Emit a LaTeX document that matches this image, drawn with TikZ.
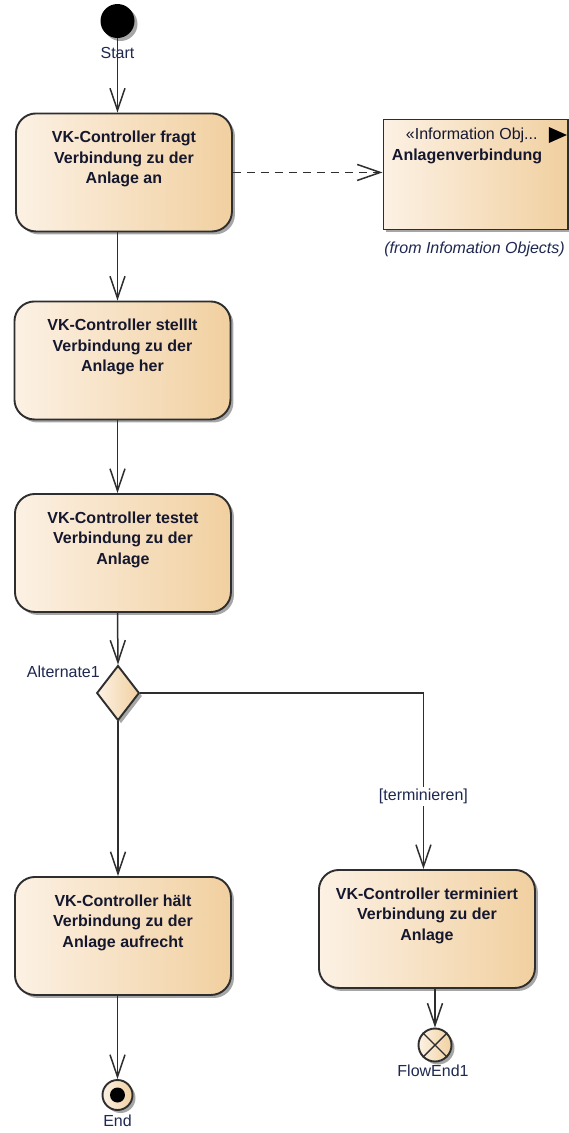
\documentclass[tikz,border=0pt]{standalone}
\usepackage{fontspec}
\setmainfont{Liberation Sans}
\usetikzlibrary{arrows.meta,shapes.geometric,shadows}

\definecolor{fillL}{HTML}{FCF1E4}
\definecolor{fillR}{HTML}{F1D0A0}
\definecolor{edge}{HTML}{2E2E2E}
\definecolor{ink}{HTML}{15172E}
\definecolor{lbl}{HTML}{1E2850}

% action text: top-aligned, three centred bold lines
\newcommand\acttext[1]{\parbox[c][118pt][t]{216pt}{\fontsize{16}{20.5}\selectfont\bfseries\centering\vspace*{15.15pt}\strut #1}}

\begin{document}
\begin{tikzpicture}[x=1pt,y=-1pt,
  shade/.style={left color=fillL, right color=fillR},
  shadowed/.style={drop shadow={shadow xshift=3pt, shadow yshift=-3pt, opacity=0.35, fill=black}},
  act/.style={draw=edge, line width=1.9pt, rounded corners=20pt, shade, shadowed,
    inner sep=0pt, anchor=north west, text=ink},
  obj/.style={draw=edge, line width=1.9pt, shade, shadowed, inner sep=0pt,
    anchor=north west, text=ink},
  lab/.style={font=\fontsize{16}{19}\selectfont, text=lbl, inner sep=0pt},
  flow/.style={draw=edge, line width=1.5pt, -{Straight Barb[length=22pt,width=15pt]}},
  dep/.style={draw=edge, line width=1.5pt, dash pattern=on 8pt off 6pt,
    -{Straight Barb[length=23pt,width=16pt]}},
]
\fill[white] (0,0) rectangle (569,1133);
\useasboundingbox (0,0) rectangle (569,1133);

% initial node
\node[circle, fill=black, minimum size=34pt, inner sep=0pt, shadowed] (start) at (117.5,21) {};

% actions
\node[act] (b1) at (15,112.5) {\acttext{VK-Controller fragt\\Verbindung zu der\\Anlage an}};
\node[act] (b2) at (13.5,300.5) {\acttext{VK-Controller stelllt\\Verbindung zu der\\Anlage her}};
\node[act] (b3) at (14,493) {\acttext{VK-Controller testet\\Verbindung zu der\\Anlage}};
\node[act] (b4) at (14,876) {\acttext{VK-Controller hält\\Verbindung zu der\\Anlage aufrecht}};
\node[act] (b5) at (318,869) {\acttext{VK-Controller terminiert\\Verbindung zu der\\Anlage}};

% information object
\node[obj] (info) at (382.5,118.5) {\parbox[c][110pt][t]{184.5pt}{\fontsize{16}{21}\selectfont\raggedright\vspace*{5.1pt}\strut\hspace*{22.5pt}«Information Obj...\\\hspace*{8.5pt}\textbf{Anlagenverbindung}}};
\fill[black, shift={(info.north east)}] (-20,8.5) -- (-20,24.5) -- (-2,16.5) -- cycle;
\node[lab, anchor=base, font=\fontsize{16}{19}\selectfont\itshape] (from) at (474.5,253) {(from Infomation Objects)};

% decision
\node[diamond, draw=edge, line width=1.9pt, shade, shadowed, minimum width=42.6pt,
  minimum height=55pt, inner sep=0pt] (dia) at (118,693) {};

% final nodes
\node[circle, draw=edge, line width=1.9pt, shade, shadowed, minimum size=30pt, inner sep=0pt] (end) at (117.5,1095) {};
\fill[black] (end.center) circle[radius=7.5pt];
\node[circle, draw=edge, line width=1.9pt, shade, shadowed, minimum size=33pt, inner sep=0pt] (fe) at (435,1045) {};
\draw[edge, line width=1.4pt] (fe.north west) -- (fe.south east) (fe.north east) -- (fe.south west);

% labels
\node[lab, anchor=base] (startlbl) at (117.5,58.3) {Start};
\node[lab, anchor=base east] (altlbl) at (100,677.3) {Alternate1};
\node[lab, anchor=base] (endlbl) at (117.5,1126.7) {End};
\node[lab, anchor=base] (felbl) at (433,1076.7) {FlowEnd1};

% control flows
\draw[flow] (start) -- (start |- b1.north);
\draw[flow] (b1.south -| start) -- (b2.north -| start);
\draw[flow] (b2.south -| start) -- (b3.north -| start);
\draw[flow] (b3.south -| start) -- (dia.north);
\draw[flow] (dia.south) -- (b4.north -| dia);
\draw[flow] (dia.east) -| node[pos=0.795, fill=white, text=lbl, inner sep=2pt,
  font=\fontsize{16}{19}\selectfont] (guard) {[terminieren]} ([xshift=-3.5pt]b5.north);
\draw[flow] (b4.south -| end) -- (end.north);
\draw[flow] (b5.south -| fe) -- (fe.north);

% dependency
\draw[dep] (b1.east) -- (b1.east -| info.west);
\end{tikzpicture}
\end{document}
